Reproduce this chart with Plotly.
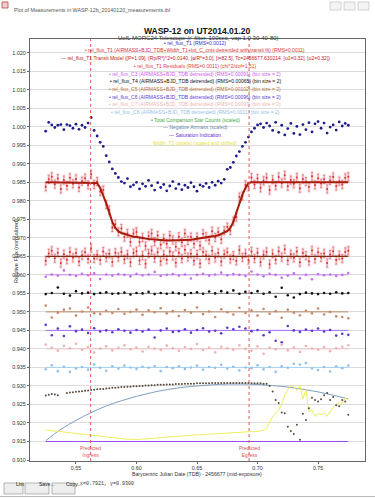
import plotly.graph_objects as go

# ---------------- data ----------------
time_bjd = [0.5250, 0.5275, 0.5300, 0.5325, 0.5350, 0.5375, 0.5400, 0.5425, 0.5450, 0.5475,
            0.5500, 0.5525, 0.5550, 0.5575, 0.5600, 0.5625, 0.5650, 0.5675, 0.5700, 0.5725,
            0.5750, 0.5775, 0.5800, 0.5825, 0.5850, 0.5875, 0.5900, 0.5925, 0.5950, 0.5975,
            0.6000, 0.6025, 0.6050, 0.6075, 0.6100, 0.6125, 0.6150, 0.6175, 0.6200, 0.6225,
            0.6250, 0.6275, 0.6300, 0.6325, 0.6350, 0.6375, 0.6400, 0.6425, 0.6450, 0.6475,
            0.6500, 0.6525, 0.6550, 0.6575, 0.6600, 0.6625, 0.6650, 0.6675, 0.6700, 0.6725,
            0.6750, 0.6775, 0.6800, 0.6825, 0.6850, 0.6875, 0.6900, 0.6925, 0.6950, 0.6975,
            0.7000, 0.7025, 0.7050, 0.7075, 0.7100, 0.7125, 0.7150, 0.7175, 0.7200, 0.7225,
            0.7250, 0.7275, 0.7300, 0.7325, 0.7350, 0.7375, 0.7400, 0.7425, 0.7450, 0.7475,
            0.7500, 0.7525, 0.7550, 0.7575, 0.7600, 0.7625, 0.7650, 0.7675, 0.7700, 0.7725,
            0.7750]

t1_raw = [0.9988, 1.0012, 1.0005, 0.9998, 1.0004, 1.0006, 0.9992, 1.0006, 1.0003, 0.9996,
          1.0007, 0.9993, 1.0004, 0.9998, 1.0010, 1.0025, 0.9990, 0.9975, 0.9958, 0.9947,
          0.9922, 0.9905, 0.9886, 0.9874, 0.9863, 0.9852, 0.9848, 0.9860, 0.9838, 0.9843,
          0.9850, 0.9832, 0.9846, 0.9839, 0.9855, 0.9841, 0.9829, 0.9849, 0.9836, 0.9844,
          0.9827, 0.9840, 0.9852, 0.9833, 0.9845, 0.9830, 0.9842, 0.9836, 0.9849, 0.9838,
          0.9826, 0.9843, 0.9839, 0.9847, 0.9836, 0.9850, 0.9842, 0.9853, 0.9848, 0.9858,
          0.9885, 0.9890, 0.9904, 0.9921, 0.9933, 0.9947, 0.9958, 0.9972, 0.9986, 0.9996,
          1.0005, 1.0008, 0.9998, 1.0010, 1.0002, 0.9990, 1.0012, 0.9985, 1.0004, 0.9978,
          0.9995, 1.0009, 0.9982, 1.0001, 0.9979, 1.0006, 0.9992, 1.0011, 0.9986, 1.0008,
          1.0014, 0.9996, 1.0010, 0.9983, 0.9999, 1.0005, 0.9991, 1.0013, 1.0002, 1.0009,
          1.0004]

transit_model = [0.9850, 0.9850, 0.9850, 0.9850, 0.9850, 0.9850, 0.9850, 0.9850, 0.9850, 0.9850,
                 0.9850, 0.9850, 0.9850, 0.9850, 0.9850, 0.9850, 0.9850, 0.9848, 0.9835, 0.9816,
                 0.9793, 0.9768, 0.9743, 0.9727, 0.9718, 0.9713, 0.9710, 0.9707, 0.9705, 0.9703,
                 0.9702, 0.9700, 0.9699, 0.9698, 0.9697, 0.9696, 0.9695, 0.9695, 0.9694, 0.9694,
                 0.9693, 0.9693, 0.9693, 0.9693, 0.9693, 0.9694, 0.9694, 0.9695, 0.9695, 0.9696,
                 0.9697, 0.9698, 0.9699, 0.9700, 0.9702, 0.9703, 0.9705, 0.9707, 0.9710, 0.9713,
                 0.9718, 0.9727, 0.9743, 0.9768, 0.9793, 0.9816, 0.9835, 0.9848, 0.9850, 0.9850,
                 0.9850, 0.9850, 0.9850, 0.9850, 0.9850, 0.9850, 0.9850, 0.9850, 0.9850, 0.9850,
                 0.9850, 0.9850, 0.9850, 0.9850, 0.9850, 0.9850, 0.9850, 0.9850, 0.9850, 0.9850,
                 0.9850, 0.9850, 0.9850, 0.9850, 0.9850, 0.9850, 0.9850, 0.9850, 0.9850, 0.9850,
                 0.9850]

t1_resid = [-0.0012, 0.0008, 0.0015, -0.0005, 0.0010, -0.0018, 0.0006, -0.0009, 0.0012, -0.0004,
            0.0009, -0.0014, 0.0003, 0.0011, -0.0007, 0.0022, -0.0006, 0.0004, -0.0010, 0.0013,
            -0.0003, 0.0007, -0.0015, 0.0010, -0.0002, 0.0012, -0.0008, 0.0005, -0.0016, 0.0009,
            0.0014, -0.0011, 0.0002, -0.0020, 0.0008, 0.0016, -0.0005, 0.0011, -0.0013, 0.0004,
            -0.0009, 0.0013, 0.0001, -0.0017, 0.0010, -0.0006, 0.0018, -0.0002, 0.0007, -0.0012,
            0.0005, -0.0019, 0.0012, 0.0003, -0.0008, 0.0015, -0.0004, 0.0009, -0.0014, 0.0006,
            0.0011, -0.0007, 0.0002, -0.0012, 0.0017, -0.0003, 0.0008, -0.0010, 0.0013, -0.0006,
            0.0010, -0.0015, 0.0004, 0.0012, -0.0021, 0.0007, -0.0009, 0.0014, -0.0002, 0.0019,
            -0.0011, 0.0006, -0.0004, 0.0013, -0.0016, 0.0009, 0.0002, -0.0013, 0.0016, -0.0007,
            0.0011, -0.0003, 0.0008, -0.0018, 0.0005, 0.0014, -0.0010, 0.0003, -0.0006, 0.0012,
            0.0015]
t1_err = 0.0011
resid_level = 0.965

total_counts = [0.9274, 0.9276, 0.9278, 0.9277, 0.9275, None, None, 0.9281, 0.9282, 0.9283,
                0.9284, 0.9285, 0.9286, 0.9287, 0.9288, 0.9289, 0.9290, 0.9291, 0.9292, 0.9292,
                0.9293, 0.9294, 0.9295, 0.9295, 0.9296, 0.9297, 0.9297, 0.9298, 0.9298, 0.9299,
                0.9299, 0.9300, 0.9300, 0.9301, 0.9301, 0.9302, 0.9302, 0.9303, 0.9303, 0.9303,
                0.9304, 0.9304, 0.9304, 0.9305, 0.9305, 0.9305, 0.9306, 0.9306, 0.9306, 0.9306,
                0.9307, 0.9307, 0.9307, 0.9307, 0.9307, 0.9308, 0.9308, 0.9308, 0.9308, 0.9308,
                0.9308, 0.9308, 0.9308, 0.9308, 0.9308, 0.9308, 0.9308, 0.9308, 0.9307, 0.9307,
                0.9307, 0.9307, 0.9306, 0.9306, 0.9300, 0.9285, 0.9262, 0.9254, 0.9228, 0.9226,
                0.9190, 0.9178, 0.9170, 0.9195, 0.9155, 0.9225, 0.9208, 0.9240, 0.9268, 0.9262,
                0.9258, 0.9264, 0.9275, 0.9281, 0.9262, 0.9270, 0.9248, 0.9245, 0.9262, 0.9258,
                0.9222]

width_t1 = [0.9181, 0.9180, 0.9179, 0.9178, 0.9177, 0.9176, 0.9175, 0.9174, 0.9173, 0.9172,
            0.9171, 0.9170, 0.9169, 0.9168, 0.9167, 0.9166, 0.9165, 0.9164, 0.9163, 0.9162,
            0.9161, 0.9160, 0.9159, 0.9158, 0.9158, 0.9157, 0.9157, 0.9156, 0.9156, 0.9155,
            0.9155, 0.9156, 0.9156, 0.9157, 0.9158, 0.9158, 0.9159, 0.9160, 0.9160, 0.9161,
            0.9162, 0.9162, 0.9163, 0.9164, 0.9164, 0.9165, 0.9166, 0.9166, 0.9167, 0.9167,
            0.9168, 0.9168, 0.9169, 0.9169, 0.9170, 0.9170, 0.9171, 0.9171, 0.9172, 0.9172,
            0.9173, 0.9173, 0.9174, 0.9174, 0.9175, 0.9175, 0.9176, 0.9176, 0.9177, 0.9176,
            0.9177, 0.9178, 0.9180, 0.9186, 0.9200, 0.9218, 0.9225, 0.9235, 0.9250, 0.9275,
            0.9290, 0.9300, 0.9298, 0.9288, 0.9302, 0.9265, 0.9290, 0.9230, 0.9235, 0.9218,
            0.9225, 0.9222, 0.9228, 0.9218, 0.9230, 0.9242, 0.9250, 0.9255, 0.9252, 0.9268,
            0.9262]

time_binned = [0.525, 0.530, 0.535, 0.540, 0.545, 0.550, 0.555, 0.560, 0.565, 0.570,
               0.575, 0.580, 0.585, 0.590, 0.595, 0.600, 0.605, 0.610, 0.615, 0.620,
               0.625, 0.630, 0.635, 0.640, 0.645, 0.650, 0.655, 0.660, 0.665, 0.670,
               0.675, 0.680, 0.685, 0.690, 0.695, 0.700, 0.705, 0.710, 0.715, 0.720,
               0.725, 0.730, 0.735, 0.740, 0.745, 0.750, 0.755, 0.760, 0.765, 0.770,
               0.775]

c3_flux = [0.9595, 0.9601, 0.9598, 0.9612, 0.9600, 0.9597, 0.9603, 0.9599, 0.9604, 0.9589,
           0.9601, 0.9598, 0.9602, 0.9600, 0.9596, 0.9603, 0.9599, 0.9601, 0.9608, 0.9597,
           0.9600, 0.9602, 0.9598, 0.9601, 0.9590, 0.9600, 0.9603, 0.9598, 0.9601, 0.9606,
           0.9599, 0.9602, 0.9600, 0.9597, 0.9609, 0.9601, 0.9596, 0.9603, 0.9600, 0.9592,
           0.9598, 0.9604, 0.9591, 0.9600, 0.9588, 0.9602, 0.9599, 0.9601, 0.9597, 0.9600,
           0.9605]
t4_flux = [0.9548, 0.9551, 0.9566, 0.9549, 0.9544, 0.9556, 0.9550, 0.9552, 0.9548, 0.9551,
           0.9553, 0.9549, 0.9550, 0.9552, 0.9547, 0.9551, 0.9550, 0.9554, 0.9548, 0.9551,
           0.9549, 0.9552, 0.9550, 0.9546, 0.9551, 0.9553, 0.9549, 0.9555, 0.9550, 0.9556,
           0.9552, 0.9558, 0.9549, 0.9554, 0.9551, 0.9556, 0.9549, 0.9553, 0.9541, 0.9565,
           0.9545, 0.9539, 0.9548, 0.9552, 0.9550, 0.9548, 0.9551, 0.9549, 0.9553, 0.9550,
           0.9551]
c5_flux = [0.9517, 0.9485, 0.9498, 0.9506, 0.9509, 0.9490, 0.9501, 0.9512, 0.9496, 0.9494,
           0.9503, 0.9497, 0.9508, 0.9495, 0.9500, 0.9506, 0.9492, 0.9504, 0.9499, 0.9510,
           0.9496, 0.9502, 0.9489, 0.9505, 0.9498, 0.9512, 0.9494, 0.9501, 0.9486, 0.9507,
           0.9499, 0.9493, 0.9511, 0.9497, 0.9504, 0.9490, 0.9508, 0.9495, 0.9502, 0.9484,
           0.9506, 0.9498, 0.9491, 0.9503, 0.9496, 0.9509, 0.9493, 0.9500, 0.9488, 0.9486,
           0.9483]
c6_flux = [0.9465, 0.9437, 0.9455, 0.9435, 0.9461, 0.9448, 0.9452, 0.9443, 0.9456, 0.9447,
           0.9450, 0.9445, 0.9453, 0.9449, 0.9444, 0.9451, 0.9447, 0.9452, 0.9431, 0.9450,
           0.9455, 0.9446, 0.9448, 0.9453, 0.9444, 0.9451, 0.9456, 0.9447, 0.9449, 0.9442,
           0.9457, 0.9453, 0.9460, 0.9455, 0.9448, 0.9451, 0.9437, 0.9445, 0.9422, 0.9418,
           0.9462, 0.9450, 0.9446, 0.9452, 0.9449, 0.9455, 0.9447, 0.9451, 0.9436, 0.9441,
           0.9438]
c7_flux = [0.9412, 0.9403, 0.9395, 0.9408, 0.9402, 0.9414, 0.9398, 0.9405, 0.9390, 0.9401,
           0.9407, 0.9396, 0.9403, 0.9410, 0.9399, 0.9404, 0.9393, 0.9406, 0.9401, 0.9397,
           0.9409, 0.9402, 0.9395, 0.9405, 0.9400, 0.9413, 0.9397, 0.9404, 0.9391, 0.9406,
           0.9402, 0.9398, 0.9410, 0.9400, 0.9395, 0.9407, 0.9387, 0.9403, 0.9399, 0.9411,
           0.9396, 0.9404, 0.9392, 0.9408, 0.9401, 0.9398, 0.9405, 0.9394, 0.9402, 0.9406,
           0.9410]
c8_flux = [0.9345, 0.9356, 0.9340, 0.9352, 0.9338, 0.9347, 0.9351, 0.9344, 0.9358, 0.9349,
           0.9341, 0.9353, 0.9347, 0.9355, 0.9350, 0.9346, 0.9352, 0.9349, 0.9354, 0.9340,
           0.9351, 0.9348, 0.9353, 0.9346, 0.9350, 0.9355, 0.9344, 0.9351, 0.9349, 0.9357,
           0.9347, 0.9352, 0.9342, 0.9350, 0.9348, 0.9356, 0.9345, 0.9351, 0.9338, 0.9353,
           0.9349, 0.9360, 0.9358, 0.9362, 0.9347, 0.9343, 0.9351, 0.9339, 0.9353, 0.9348,
           0.9355]
comp_fit_levels = [0.960, 0.955, 0.950, 0.945, 0.940, 0.935]

airmass_time = [0.525, 0.5375, 0.550, 0.5625, 0.575, 0.5875, 0.600, 0.6125, 0.625, 0.6375,
                0.650, 0.6625, 0.675, 0.6875, 0.700, 0.7125, 0.725, 0.7375, 0.750, 0.7625,
                0.775]
neg_airmass = [0.9152, 0.9183, 0.9207, 0.9228, 0.9246, 0.9260, 0.9272, 0.9282, 0.9290, 0.9296,
               0.9300, 0.9303, 0.9305, 0.9305, 0.9304, 0.9301, 0.9297, 0.9291, 0.9284, 0.9275,
               0.9265]

saturation_time = [0.525, 0.775]
saturation_level = [0.915, 0.915]

predicted_ingress = 0.5621
predicted_egress = 0.6930

x_ticks = [0.55, 0.60, 0.65, 0.70, 0.75]
x_tick_labels = ["0.55", "0.60", "0.65", "0.70", "0.75"]
y_ticks = [0.910, 0.915, 0.920, 0.925, 0.930, 0.935, 0.940, 0.945, 0.950, 0.955, 0.960, 0.965,
           0.970, 0.975, 0.980, 0.985, 0.990, 0.995, 1.000, 1.005, 1.010, 1.015, 1.020]
y_tick_labels = ["%.3f" % v for v in y_ticks]

legend_labels = [
    "• rel_flux_T1 (RMS=0.0012)",
    "• rel_flux_T1 (AIRMASS+BJD_TDB+Width_T1+tot_C_cnts detrended with transit fit) (RMS=0.0011)",
    "— rel_flux_T1 Transit Model ([P=1.09], (Rp/R*)^2=0.0140, [a/R*=3.0], [i=82.5], Tc=2456677.630214, [u1=0.32], [u2=0.32])",
    "• rel_flux_T1 Residuals (RMS=0.0011) (chi^2/dof=1.51)",
    "• rel_flux_C3 (AIRMASS+BJD_TDB detrended) (RMS=0.00091) (bin size = 2)",
    "• rel_flux_T4 (AIRMASS+BJD_TDB detrended) (RMS=0.00065) (bin size = 2)",
    "• rel_flux_C5 (AIRMASS+BJD_TDB detrended) (RMS=0.00102) (bin size = 2)",
    "• rel_flux_C6 (AIRMASS+BJD_TDB detrended) (RMS=0.00096) (bin size = 2)",
    "• rel_flux_C7 (AIRMASS+BJD_TDB detrended) (RMS=0.00097) (bin size = 2)",
    "• rel_flux_C8 (AIRMASS+BJD_TDB detrended) (RMS=0.0011) (bin size = 2)",
    "• Total Comparison Star Counts (scaled)",
    "— Negative Airmass (scaled)",
    "— Saturation Indication",
    "Width_T1 (pixels) (scaled and shifted)",
]

# ---------------- styling / layout ----------------
legend_colors = ["#3333c4", "#e03434", "#c42020", "#e04444", "#cc5cee", "#111111", "#b87440",
                 "#5a3cd8", "#f0b4b4", "#98c0e6", "#44aa44", "#6a8aaa", "#6a30d0", "#e2e23a"]

W, H = 375, 498
ML, MR, MT, MB = 30, 10, 39, 37
FONT = "Liberation Sans, Arial, sans-serif"


def pxx(x):
    return (x - ML) / (W - ML - MR)


def pxy(y):
    return (H - MB - y) / (H - MT - MB)


t1_detrended = [m + r for m, r in zip(transit_model, t1_resid)]
t1_residuals = [resid_level + r for r in t1_resid]

fig = go.Figure()

# pink glow of the error bars
for ys in (t1_detrended, t1_residuals):
    fig.add_trace(go.Scatter(
        x=time_bjd, y=ys, mode="markers",
        marker=dict(size=0.1, color="rgba(0,0,0,0)"),
        error_y=dict(type="constant", value=t1_err * 1.4, color="rgba(255,170,200,0.35)",
                     thickness=3.2, width=0),
        hoverinfo="skip"))

# negative airmass, saturation, width
fig.add_trace(go.Scatter(x=airmass_time, y=neg_airmass, mode="lines", line_shape="spline",
                         line=dict(color="#7f9fbf", width=1)))
fig.add_trace(go.Scatter(x=saturation_time, y=saturation_level, mode="lines",
                         line=dict(color="#9a48f0", width=1.2)))
fig.add_trace(go.Scatter(x=time_bjd, y=width_t1, mode="lines",
                         line=dict(color="#eeee60", width=1)))

# total comparison counts
fig.add_trace(go.Scatter(x=time_bjd, y=total_counts, mode="markers",
                         marker=dict(size=2, color="#5a4a3c")))

# comparison star fit lines and points
comp_series = [c3_flux, t4_flux, c5_flux, c6_flux, c7_flux, c8_flux]
comp_dot_colors = ["#c070ee", "#111111", "#c48a6a", "#5a3cc8", "#efb0b0", "#90c0ec"]
comp_line_colors = ["#c890f4", "#888888", "#b88868", "#a070f0", "#ecc8c8", "#a8d4f4"]
for lvl, lc in zip(comp_fit_levels, comp_line_colors):
    fig.add_trace(go.Scatter(x=[time_binned[0], time_binned[-1]], y=[lvl, lvl], mode="lines",
                             line=dict(color=lc, width=1)))
for ys, dc in zip(comp_series, comp_dot_colors):
    fig.add_trace(go.Scatter(x=time_binned, y=ys, mode="markers",
                             marker=dict(size=2.6, color=dc)))

# detrended + residuals with error bars
for ys in (t1_detrended, t1_residuals):
    fig.add_trace(go.Scatter(
        x=time_bjd, y=ys, mode="markers",
        marker=dict(size=2.0, color="#e03030"),
        error_y=dict(type="constant", value=t1_err, color="#c86048", thickness=0.6, width=1.1)))

# residual baseline and transit model
fig.add_trace(go.Scatter(x=[time_bjd[0], time_bjd[-1]], y=[resid_level, resid_level], mode="lines",
                         line=dict(color="#7a2e10", width=1.3)))
fig.add_trace(go.Scatter(x=time_bjd, y=transit_model, mode="lines",
                         line=dict(color="#a81c0c", width=2)))

# raw target flux
fig.add_trace(go.Scatter(x=time_bjd, y=t1_raw, mode="markers",
                         marker=dict(size=2.8, color="#1c1c8c")))

shapes = []
for xv in (predicted_ingress, predicted_egress):
    shapes.append(dict(type="line", xref="x", yref="paper", x0=xv, x1=xv, y0=0, y1=1,
                       line=dict(color="#d8605a", width=1, dash="dot")))

annotations = []
for xv, word in ((predicted_ingress, "Ingress"), (predicted_egress, "Egress")):
    annotations.append(dict(x=xv, y=0.9124, xref="x", yref="y", text="Predicted<br>" + word,
                            showarrow=False, font=dict(size=5, color="#e05050", family=FONT)))

for i, (txt, col) in enumerate(zip(legend_labels, legend_colors)):
    annotations.append(dict(x=pxx(195), y=pxy(42.7 + 7.7 * i), xref="paper", yref="paper",
                            text=txt, showarrow=False, xanchor="center", yanchor="middle",
                            font=dict(size=5, color=col, family=FONT)))

# titles
annotations.append(dict(x=pxx(197), y=pxy(24.0), xref="paper", yref="paper",
                        text="<b>WASP-12 on UT2014.01.20</b>", showarrow=False,
                        font=dict(size=8.5, color="#111111", family=FONT)))
annotations.append(dict(x=pxx(198), y=pxy(33.2), xref="paper", yref="paper",
                        text="UofL MORC24 Telescope (r' filter, 100sec, vap 1.0 30-40-80)",
                        showarrow=False, font=dict(size=6, color="#333333", family=FONT)))
annotations.append(dict(x=pxx(197), y=pxy(478.5), xref="paper", yref="paper",
                        text="Barycentric Julian Date (TDB) - 2456677 (mid-exposure)",
                        showarrow=False, font=dict(size=5.2, color="#333333", family=FONT)))
annotations.append(dict(x=pxx(11), y=pxy(251), xref="paper", yref="paper", textangle=-90,
                        text="Relative Flux (normalized)", showarrow=False,
                        font=dict(size=5.5, color="#333333", family=FONT)))

# window chrome: title bar and bottom buttons
annotations.append(dict(x=pxx(12), y=pxy(5), xref="paper", yref="paper", xanchor="left",
                        text="Plot of Measurements in WASP-12b_20140120_measurements.tbl",
                        showarrow=False, font=dict(size=5.3, color="#555555", family=FONT)))
shapes.append(dict(type="rect", xref="paper", yref="paper", x0=pxx(2), x1=pxx(8),
                   y0=pxy(8), y1=pxy(2), line=dict(color="#c04040", width=0.8),
                   fillcolor="#f0d0d0"))
for bx in (330, 344, 358):
    shapes.append(dict(type="rect", xref="paper", yref="paper", x0=pxx(bx), x1=pxx(bx + 11),
                       y0=pxy(10), y1=pxy(2), line=dict(color="#bbbbbb", width=0.6),
                       fillcolor="#f4f4f4"))
for bx0, bx1, lab in ((4, 23, "List"), (25, 49, "Save..."), (52, 75, "Copy...")):
    shapes.append(dict(type="rect", xref="paper", yref="paper", x0=pxx(bx0), x1=pxx(bx1),
                       y0=pxy(494), y1=pxy(483), line=dict(color="#999999", width=0.7),
                       fillcolor="#eeeeee"))
    annotations.append(dict(x=pxx((bx0 + bx1) / 2), y=pxy(488.5), xref="paper", yref="paper",
                            text=lab, showarrow=False,
                            font=dict(size=5.0, color="#222222", family=FONT)))
annotations.append(dict(x=pxx(78), y=pxy(488.5), xref="paper", yref="paper", xanchor="left",
                        text="x=0.7921, y=0.9300", showarrow=False,
                        font=dict(size=5.0, color="#333333", family="Liberation Mono, monospace")))
shapes.append(dict(type="line", xref="paper", yref="paper", x0=pxx(0), x1=pxx(375),
                   y0=pxy(496.5), y1=pxy(496.5), line=dict(color="#bbbbbb", width=1)))

fig.update_layout(
    width=W, height=H,
    margin=dict(l=ML, r=MR, t=MT, b=MB, pad=0, autoexpand=False),
    paper_bgcolor="white", plot_bgcolor="white",
    showlegend=False,
    font=dict(family=FONT, size=5.5, color="#333333"),
    shapes=shapes, annotations=annotations,
    xaxis=dict(range=[0.5120, 0.7888], tickmode="array", tickvals=x_ticks, ticktext=x_tick_labels,
               automargin=False,
               showgrid=False, zeroline=False, showline=True, linecolor="#666666", linewidth=1,
               mirror=True, ticks="outside", ticklen=2, tickcolor="#666666",
               tickfont=dict(size=5.3, color="#333333", family=FONT)),
    yaxis=dict(range=[0.90973, 1.0237], tickmode="array", tickvals=y_ticks, ticktext=y_tick_labels,
               automargin=False,
               showgrid=True, gridcolor="#dcdcdc", gridwidth=1, zeroline=False, showline=True,
               linecolor="#666666", linewidth=1, mirror=True, ticks="outside", ticklen=2,
               tickcolor="#666666", tickfont=dict(size=5.5, color="#333333", family=FONT)),
)

fig.write_html("out.html", config={"displayModeBar": False},
               post_script="document.body.style.margin='0';")
